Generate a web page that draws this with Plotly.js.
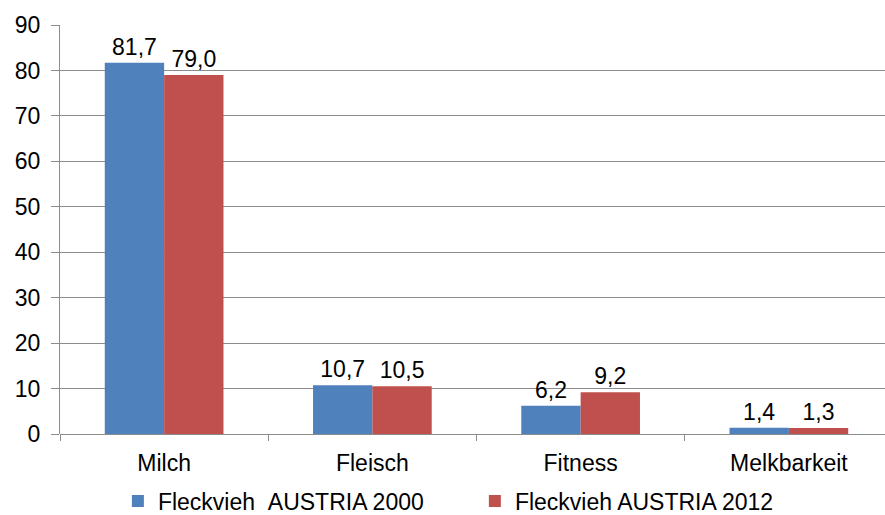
<!DOCTYPE html>
<html><head><meta charset="utf-8">
<script src="https://cdn.plot.ly/plotly-3.0.1.min.js"></script>
<style>html,body{margin:0;padding:0;overflow:hidden;background:#fff}#c{width:893px;height:515px}</style>
</head><body><div id="c"></div>
<script>
const categories = ["Milch", "Fleisch", "Fitness", "Melkbarkeit"];
const series2000 = [81.7, 10.7, 6.2, 1.4];
const series2012 = [79.0, 10.5, 9.2, 1.3];
const seriesNames = ["Fleckvieh\u00a0\u00a0AUSTRIA 2000", "Fleckvieh AUSTRIA 2012"];
const yTicks = [0, 10, 20, 30, 40, 50, 60, 70, 80, 90];

const font = {family: "Liberation Sans, Arial, sans-serif", size: 23, color: "#000"};
const mk = (y, name, color) => ({
  type: "bar", x: categories, y: y, name: name,
  marker: {color: color},
  texttemplate: "%{y:.1f}", textposition: "outside", cliponaxis: false,
  textfont: font, hoverinfo: "skip"
});
const data = [mk(series2000, seriesNames[0], "#4F81BD"), mk(series2012, seriesNames[1], "#C0504D")];
const layout = {
  width: 893, height: 515,
  margin: {l: 60, r: 0, t: 25, b: 81},
  separators: ",.",
  font: font,
  paper_bgcolor: "#fff", plot_bgcolor: "#fff",
  barmode: "group", bargap: 0.43, bargroupgap: 0,
  showlegend: true,
  legend: {orientation: "h", xref: "container", x: 0.132, xanchor: "left", yref: "container", y: 0.027, yanchor: "middle",
           font: font, itemwidth: 30, entrywidth: 312, entrywidthmode: "pixels"},
  xaxis: {automargin: false, showline: false, ticks: "outside", tickson: "boundaries", ticklen: 6, tickcolor: "#8c8c8c",
          ticklabelstandoff: 13, tickfont: font, showgrid: false, zeroline: false},
  yaxis: {automargin: false, range: [0, 90], tickvals: yTicks, tickfont: font, showgrid: true, gridcolor: "#8c8c8c", gridwidth: 1,
          showline: true, linecolor: "#8c8c8c", ticks: "outside", ticklen: 8, tickcolor: "#8c8c8c",
          ticklabelstandoff: 6, zeroline: true, zerolinecolor: "#8c8c8c"}
};
Plotly.newPlot("c", data, layout, {staticPlot: true});
</script></body></html>
